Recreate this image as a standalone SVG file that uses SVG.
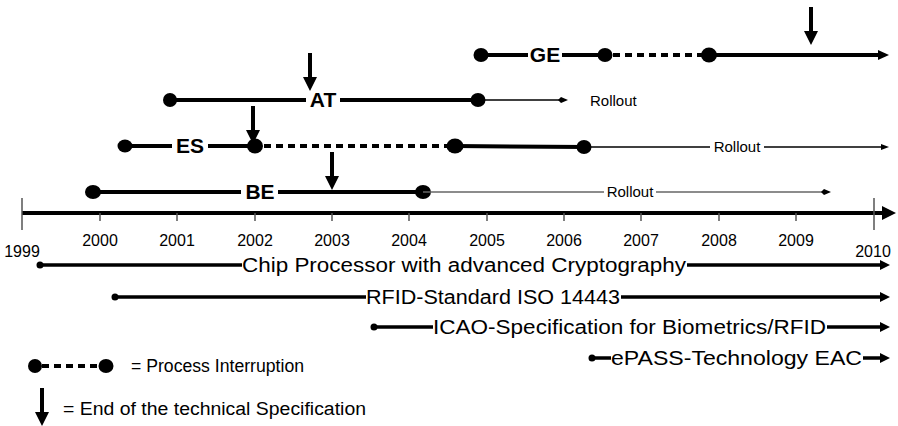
<svg xmlns="http://www.w3.org/2000/svg" width="898" height="426" viewBox="0 0 898 426">
<style>
.thick{stroke:#000;stroke-width:4;fill:none}
.dash{stroke:#000;stroke-width:4;fill:none;stroke-dasharray:7,5}
.thin{stroke:#000;stroke-width:1.3;fill:none}
.gthin{stroke:#666;stroke-width:1.3;fill:none}
.bar{stroke:#000;stroke-width:3.5;fill:none}
.tick{stroke:#555;stroke-width:1.5}
.lbl{font-family:"Liberation Sans",Arial,sans-serif;font-weight:bold;font-size:21px;text-anchor:middle}
.ro{font-family:"Liberation Sans",Arial,sans-serif;font-size:15px}
.yr{font-family:"Liberation Sans",Arial,sans-serif;font-size:16px;text-anchor:middle}
.bt{font-family:"Liberation Sans",Arial,sans-serif;font-size:20px}
.lg{font-family:"Liberation Sans",Arial,sans-serif;font-size:18px}
</style>
<defs>
<g id="down"><path d="M-2,0 H2 V24 H7 L0,38 L-7,24 H-2 z" fill="#000"/></g>
</defs>

<g id="connectors">
<line class="thick" x1="22" y1="213" x2="884" y2="213"/>
<path d="M882,206 L896,213 L882,220 z" fill="#000"/>
<line class="tick" x1="22" y1="198" x2="22" y2="230"/>
<line class="tick" x1="874" y1="198" x2="874" y2="230"/>
<g class="tick">
<line x1="100" y1="213" x2="100" y2="221"/><line x1="177" y1="213" x2="177" y2="221"/>
<line x1="255" y1="213" x2="255" y2="221"/><line x1="332" y1="213" x2="332" y2="221"/>
<line x1="409" y1="213" x2="409" y2="221"/><line x1="487" y1="213" x2="487" y2="221"/>
<line x1="564" y1="213" x2="564" y2="221"/><line x1="641" y1="213" x2="641" y2="221"/>
<line x1="719" y1="213" x2="719" y2="221"/><line x1="796" y1="213" x2="796" y2="221"/>
</g>
</g>

<g id="years">
<text class="yr" x="22" y="257">1999</text>
<text class="yr" x="100" y="246">2000</text>
<text class="yr" x="177" y="246">2001</text>
<text class="yr" x="255" y="246">2002</text>
<text class="yr" x="332" y="246">2003</text>
<text class="yr" x="409" y="246">2004</text>
<text class="yr" x="487" y="246">2005</text>
<text class="yr" x="564" y="246">2006</text>
<text class="yr" x="641" y="246">2007</text>
<text class="yr" x="719" y="246">2008</text>
<text class="yr" x="796" y="246">2009</text>
<text class="yr" x="873" y="257">2010</text>
</g>

<g id="GE">
<line class="thick" x1="481" y1="55" x2="528" y2="55"/>
<line class="thick" x1="562" y1="55" x2="605" y2="55"/>
<line class="dash" x1="613" y1="55" x2="703" y2="55"/>
<line class="thick" x1="709" y1="55" x2="880" y2="55"/>
<path d="M878,50 L889,55 L878,60 z" fill="#000"/>
<ellipse cx="481" cy="55" rx="7.5" ry="7"/>
<ellipse cx="605" cy="55" rx="7.5" ry="7"/>
<ellipse cx="709" cy="55" rx="8" ry="7.5"/>
<text class="lbl" x="545" y="62">GE</text>
<use href="#down" x="811" y="7"/>
</g>

<g id="AT">
<line class="thick" x1="170" y1="100" x2="306" y2="100"/>
<line class="thick" x1="340" y1="100" x2="478" y2="100"/>
<ellipse cx="170" cy="100" rx="7" ry="7"/>
<ellipse cx="478" cy="100" rx="7.5" ry="7"/>
<line class="thin" x1="478" y1="100" x2="563" y2="100"/>
<path d="M561,97 L568,100 L561,103 L558,100 z" fill="#000"/>
<text class="lbl" x="323" y="107">AT</text>
<text class="ro" x="590" y="106">Rollout</text>
<use href="#down" x="310" y="53"/>
</g>

<g id="ES">
<line class="thick" x1="125" y1="146" x2="172" y2="146"/>
<line class="thick" x1="208" y1="146" x2="255" y2="146"/>
<line class="dash" x1="264" y1="146" x2="450" y2="146"/>
<path d="M455,146 L586,147" class="thick"/>
<ellipse cx="125" cy="146" rx="7.5" ry="6.5"/>
<ellipse cx="255" cy="146" rx="8" ry="7.5"/>
<ellipse cx="455" cy="146" rx="8.5" ry="7.5"/>
<ellipse cx="584" cy="147" rx="7.5" ry="7"/>
<line class="thin" x1="584" y1="147" x2="710" y2="147"/>
<line class="thin" x1="764" y1="147" x2="882" y2="147"/>
<path d="M881,144 L889,147 L881,150 z" fill="#000"/>
<text class="ro" x="737" y="152" text-anchor="middle">Rollout</text>
<text class="lbl" x="190" y="153">ES</text>
<use href="#down" x="253" y="106"/>
</g>

<g id="BE">
<line class="thick" x1="93" y1="192" x2="241" y2="192"/>
<line class="thick" x1="278" y1="192" x2="423" y2="192"/>
<ellipse cx="93" cy="192" rx="8" ry="7"/>
<ellipse cx="423" cy="192" rx="8" ry="7"/>
<line class="gthin" x1="423" y1="192" x2="604" y2="192"/>
<line class="gthin" x1="656" y1="192" x2="826" y2="192"/>
<path d="M824,189 L831,192 L824,195 L821,192 z" fill="#000"/>
<text class="ro" x="630" y="197" text-anchor="middle">Rollout</text>
<text class="lbl" x="260" y="199">BE</text>
<use href="#down" x="332" y="152"/>
</g>

<g id="chip">
<line class="bar" x1="40" y1="265" x2="242" y2="265"/>
<line class="bar" x1="687" y1="265" x2="882" y2="265"/>
<circle cx="40" cy="265" r="3.5"/>
<path d="M880,260 L890,265 L880,270 z" fill="#000"/>
<text class="bt" x="242" y="272" textLength="444" lengthAdjust="spacingAndGlyphs">Chip Processor with advanced Cryptography</text>
</g>

<g id="rfid">
<line class="bar" x1="115" y1="297" x2="366" y2="297"/>
<line class="bar" x1="621" y1="297" x2="882" y2="297"/>
<circle cx="115" cy="297" r="3.5"/>
<path d="M880,292 L890,297 L880,302 z" fill="#000"/>
<text class="bt" x="366" y="304" textLength="254" lengthAdjust="spacingAndGlyphs">RFID-Standard ISO 14443</text>
</g>

<g id="icao">
<line class="bar" x1="374" y1="327" x2="433" y2="327"/>
<line class="bar" x1="827" y1="327" x2="882" y2="327"/>
<circle cx="374" cy="327" r="3.5"/>
<path d="M880,322 L890,327 L880,332 z" fill="#000"/>
<text class="bt" x="433" y="334" textLength="393" lengthAdjust="spacingAndGlyphs">ICAO-Specification for Biometrics/RFID</text>
</g>

<g id="epass">
<line class="bar" x1="592" y1="358" x2="611" y2="358"/>
<line class="bar" x1="863" y1="358" x2="882" y2="358"/>
<circle cx="592" cy="358" r="3.5"/>
<path d="M880,353 L890,358 L880,363 z" fill="#000"/>
<text class="bt" x="611" y="365" textLength="251" lengthAdjust="spacingAndGlyphs">ePASS-Technology EAC</text>
</g>

<g id="legend">
<line class="dash" x1="42" y1="366" x2="98" y2="366"/>
<ellipse cx="35" cy="366" rx="7" ry="7"/>
<ellipse cx="106" cy="366" rx="7.5" ry="7"/>
<text class="lg" x="131" y="372" textLength="173" lengthAdjust="spacingAndGlyphs">= Process Interruption</text>
<use href="#down" x="42" y="388"/>
<text class="lg" x="63" y="415" textLength="303" lengthAdjust="spacingAndGlyphs">= End of the technical Specification</text>
</g>
</svg>
